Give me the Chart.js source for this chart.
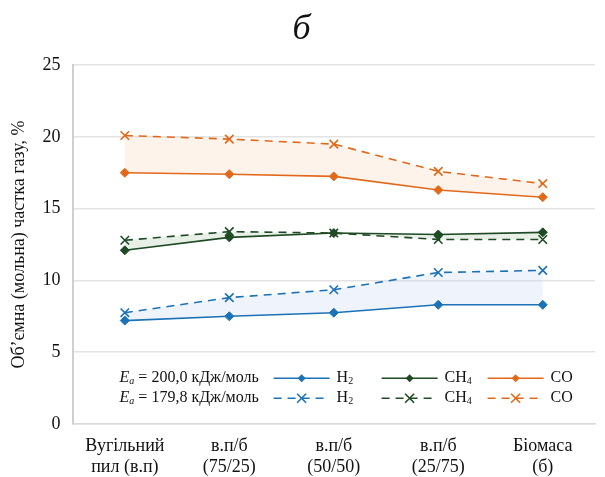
<!DOCTYPE html>
<html>
<head>
<meta charset="utf-8">
<script src="https://cdn.jsdelivr.net/npm/chart.js@4.4.1/dist/chart.umd.min.js"></script>
<style>
  html, body { margin: 0; padding: 0; background: #fff; }
</style>
</head>
<body>
<canvas id="myChart" width="605" height="477"></canvas>
<script>
// Catégories (axe X)
const categories = [
  ['Вугільний', 'пил (в.п)'],
  ['в.п/б', '(75/25)'],
  ['в.п/б', '(50/50)'],
  ['в.п/б', '(25/75)'],
  ['Біомаса', '(б)']
];

// Ea = 200,0 кДж/моль (traits pleins)
const h2_200 = [7.2, 7.5, 7.75, 8.3, 8.3];
const ch4_200 = [12.1, 13.0, 13.3, 13.2, 13.35];
const co_200 = [17.5, 17.4, 17.25, 16.3, 15.8];

// Ea = 179,8 кДж/моль (tirets)
const h2_179 = [7.75, 8.8, 9.35, 10.55, 10.7];
const ch4_179 = [12.8, 13.4, 13.3, 12.85, 12.85];
const co_179 = [20.1, 19.85, 19.5, 17.6, 16.75];

const yTicks = [0, 5, 10, 15, 20, 25];

const BLEU = '#1b72b7';
const VERT = '#1e4a24';
const ORANGE = '#e2691b';
const POLICE = "'Liberation Serif', 'Times New Roman', serif";

function plein(data, couleur) {
  return {
    data: data,
    borderColor: couleur,
    backgroundColor: couleur,
    borderWidth: 1.6,
    pointStyle: 'rectRot',
    pointRadius: 4.5,
    pointBorderWidth: 1,
    fill: false
  };
}

function tirets(data, couleur, remplissage, cible) {
  return {
    data: data,
    borderColor: couleur,
    backgroundColor: remplissage,
    pointBackgroundColor: couleur,
    borderWidth: 1.6,
    borderDash: [8, 6],
    pointStyle: 'crossRot',
    pointRadius: 6,
    pointBorderWidth: 1.6,
    fill: { target: cible }
  };
}

// Légende dessinée à la main dans la zone du graphique
const legendeMaison = {
  id: 'legendeMaison',
  afterDatasetsDraw(chart) {
    const ctx = chart.ctx;
    const a = chart.chartArea;
    const lignes = [
      { y: a.top + 313, ea: '200,0', ds: [0, 2, 4] },
      { y: a.top + 333, ea: '179,8', ds: [1, 3, 5] }
    ];
    const noms = [['H', '2'], ['CH', '4'], ['CO', '']];
    const xs = [a.left + 201, a.left + 309, a.left + 415];

    ctx.save();
    ctx.fillStyle = '#111';
    ctx.textBaseline = 'middle';
    lignes.forEach(l => {
      let x = a.left + 47;
      ctx.font = 'italic 16px ' + POLICE;
      ctx.fillText('E', x, l.y);
      x += ctx.measureText('E').width;
      ctx.font = 'italic 10px ' + POLICE;
      ctx.fillText('a', x, l.y + 3);
      x += ctx.measureText('a').width;
      ctx.font = '16px ' + POLICE;
      ctx.fillText(' = ' + l.ea + ' кДж/моль', x, l.y);

      l.ds.forEach((idx, k) => {
        const d = chart.data.datasets[idx];
        const x0 = xs[k];
        ctx.strokeStyle = d.borderColor;
        ctx.lineWidth = 1.6;
        ctx.setLineDash(d.borderDash || []);
        ctx.beginPath();
        ctx.moveTo(x0, l.y);
        ctx.lineTo(x0 + 56, l.y);
        ctx.stroke();
        ctx.setLineDash([]);
        const cx = x0 + 28;
        if (d.pointStyle === 'rectRot') {
          ctx.fillStyle = d.borderColor;
          ctx.beginPath();
          ctx.moveTo(cx, l.y - 4);
          ctx.lineTo(cx + 4, l.y);
          ctx.lineTo(cx, l.y + 4);
          ctx.lineTo(cx - 4, l.y);
          ctx.closePath();
          ctx.fill();
        } else {
          ctx.beginPath();
          ctx.moveTo(cx - 4.5, l.y - 4.5);
          ctx.lineTo(cx + 4.5, l.y + 4.5);
          ctx.moveTo(cx + 4.5, l.y - 4.5);
          ctx.lineTo(cx - 4.5, l.y + 4.5);
          ctx.stroke();
        }
        ctx.fillStyle = '#111';
        let tx = x0 + 63;
        ctx.font = '16px ' + POLICE;
        ctx.fillText(noms[k][0], tx, l.y);
        tx += ctx.measureText(noms[k][0]).width;
        ctx.font = '10px ' + POLICE;
        ctx.fillText(noms[k][1], tx, l.y + 3);
      });
    });
    ctx.restore();
  }
};

const ctx = document.getElementById('myChart').getContext('2d');
new Chart(ctx, {
  type: 'line',
  data: {
    labels: categories,
    datasets: [
      plein(h2_200, BLEU),
      tirets(h2_179, BLEU, 'rgba(190, 208, 240, 0.25)', 0),
      plein(ch4_200, VERT),
      tirets(ch4_179, VERT, 'rgba(160, 192, 160, 0.25)', 2),
      plein(co_200, ORANGE),
      tirets(co_179, ORANGE, 'rgba(246, 200, 165, 0.22)', 4)
    ]
  },
  options: {
    responsive: false,
    animation: false,
    layout: { padding: { left: 8, right: 10, top: 6, bottom: -13 } },
    plugins: {
      legend: { display: false },
      tooltip: { enabled: false },
      title: {
        display: true,
        text: 'б',
        color: '#111',
        font: { family: POLICE, size: 36, style: 'italic', weight: 'normal' },
        padding: { top: 2, bottom: 14 }
      }
    },
    scales: {
      x: {
        offset: true,
        grid: { display: false, drawTicks: false },
        border: { color: '#d9d9d9', width: 1.5 },
        ticks: {
          color: '#111',
          font: { family: POLICE, size: 18, lineHeight: 1.17 },
          maxRotation: 0,
          padding: 12
        }
      },
      y: {
        min: 0,
        max: 25,
        afterBuildTicks: axis => { axis.ticks = yTicks.map(v => ({ value: v })); },
        grid: { color: '#e3e3e3', lineWidth: 1.5, drawTicks: false },
        border: { color: '#cfcfcf', width: 2 },
        ticks: {
          color: '#111',
          font: { family: POLICE, size: 18 },
          padding: 12
        },
        title: {
          display: true,
          text: 'Об’ємна (мольна) частка газу, %',
          color: '#111',
          font: { family: POLICE, size: 18 },
          padding: { top: 0, bottom: 1 }
        }
      }
    }
  },
  plugins: [legendeMaison]
});
</script>
</body>
</html>
